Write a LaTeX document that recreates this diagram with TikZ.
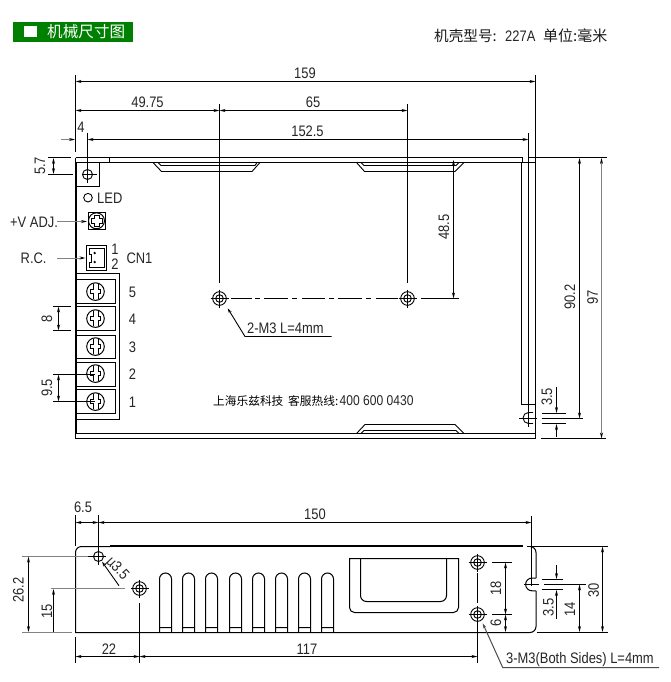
\documentclass[tikz,border=0pt]{standalone}
\usepackage{fontspec}
\setmainfont[FakeStretch=0.85]{Liberation Sans}
\newfontfamily\cjk{Noto Sans CJK SC}
\usetikzlibrary{arrows.meta}
\definecolor{hdrgreen}{RGB}{0,128,0}
\definecolor{dimgray}{RGB}{130,130,130}
\tikzset{
  outline/.style={line width=1pt,black},
  thin line/.style={line width=0.9pt,black},
  heavy/.style={line width=2pt,black},
  ext/.style={line width=1pt,black},
  extg/.style={line width=1pt,dimgray},
  dimline/.style={line width=1pt,black,{Stealth[length=6pt,width=3pt]}-{Stealth[length=6pt,width=3pt]}},
  dimone/.style={line width=1pt,black,-{Stealth[length=6pt,width=3pt]}},
  dimgrayline/.style={line width=1pt,dimgray,-{Stealth[length=6pt,width=3pt,black]}},
  lab/.style={font=\fontsize{15.2}{15.2}\selectfont,inner sep=0pt,text=black!85},
  vlab/.style={lab,rotate=90},
  cjktext/.style={inner sep=0pt,anchor=west},
}
\newcommand{\bighole}[2]{%
  \draw[thin line] (#1,#2) circle[radius=6.8] (#1,#2) circle[radius=3.8];
  \draw[thin line] (#1-9,#2) -- (#1+9,#2) (#1,#2-9) -- (#1,#2+9);}
\newcommand{\termscrew}[1]{%
  \draw[outline] (95.5,#1) circle[radius=8.8];
  \draw[thin line] (93,#1-7.5) -- (93,#1-2) -- (90.5,#1-2) -- (90.5,#1+1.5) -- (93,#1+1.5) -- (93,#1+7.5)
    (98,#1-7.5) -- (98,#1-2) -- (100.5,#1-2) -- (100.5,#1+1.5) -- (98,#1+1.5) -- (98,#1+7.5);}
\newcommand{\finshape}[1]{%
  \draw[outline] (#1,632.5) -- (#1,579) arc[start angle=180,end angle=360,radius=6] -- (#1+12,632.5)
    (#1,627.5) -- (#1+12,627.5);}
\begin{document}
\begin{tikzpicture}[x=1pt,y=-1pt]
\useasboundingbox (0,0) rectangle (671,682);
\fill[white] (0,0) rectangle (671,682);
% header
\fill[hdrgreen] (13,22) rectangle (133,42);
\fill[white] (24,26) rectangle (37,37.5);
\node[cjktext,text=white,font=\cjk\fontsize{15.6}{16}\selectfont] (title) at (47,32) {机械尺寸图};
\node[cjktext,text=black!90,font=\cjk\fontsize{14.6}{15}\selectfont] (shell) at (434,36) {机壳型号:};
\node[lab,anchor=west] (model) at (505,36.5) {227A};
\node[cjktext,text=black!90,font=\cjk\fontsize{15}{15}\selectfont] (unit) at (543,36) {单位:毫米};

% ===== top view body
\draw[outline] (75.5,162.5) -- (535.5,162.5);
\draw[outline] (75.5,157.5) -- (522.5,157.5) -- (522.5,162.5);
\draw[outline] (528.5,157.5) -- (607,157.5);
\draw[outline] (75.5,157.5) -- (75.5,162.5);
\draw[heavy] (76,162) -- (76,433.5);
\draw[outline] (75.5,433.5) -- (535.5,433.5);
\draw[outline] (75.5,433) -- (75.5,438.5) -- (535.5,438.5);
\draw[outline] (109.5,157.5) -- (109.5,162.5);
\draw[outline] (521.5,162.5) -- (521.5,404.5) -- (535.5,404.5);
\draw[outline] (528.5,133) -- (528.5,427);
\draw[outline] (535.5,75) -- (535.5,438.5);
% grooves
\draw[thin line] (153,162.5) -- (161.5,171.5) -- (252,171.5) -- (260,162.5)
  (158,162.5) -- (161,165.5) -- (255,165.5) -- (257,162.5);
\draw[thin line] (356.5,162.5) -- (364.5,171.5) -- (455,171.5) -- (464,162.5)
  (361,162.5) -- (364,165.5) -- (456,165.5) -- (459,162.5);
\draw[thin line] (356.5,433.5) -- (365,424.5) -- (455,424.5) -- (464,433.5)
  (361,433.5) -- (364,430.5) -- (456,430.5) -- (459,433.5);
% corner mount
\draw[outline] (75.5,186.5) -- (99.5,186.5) -- (99.5,162.5);
\draw[thin line] (87.5,174.5) circle[radius=5];
\draw[thin line] (82,174.5) -- (97,174.5);
\draw[ext] (87.5,132.7) -- (87.5,182.7);
% LED
\draw[thin line] (88,197.7) circle[radius=4.3];
\node[lab,anchor=west] (led) at (97,198) {LED};
% +V ADJ
\node[lab,anchor=west] (vadj) at (10,222.5) {+V ADJ.};
\draw[outline] (88.5,212.5) rectangle (105.5,229.5);
\draw[outline] (96.5,220.8) circle[radius=8];
\draw[thin line] (94,215.5) -- (99,215.5) -- (99,218.5) -- (102,218.5) -- (102,223) -- (99,223) -- (99,226) -- (94,226) -- (94,223) -- (91,223) -- (91,218.5) -- (94,218.5) -- cycle;
\draw[dimgrayline] (57,221.5) -- (87,221.5);
% R.C. and CN1
\node[lab,anchor=west] (rc) at (20.5,258.5) {R.C.};
\draw[dimgrayline] (57,258) -- (85.5,258);
\draw[outline] (86.5,245.5) rectangle (106.5,270.5);
\draw[thin line] (89.5,248.5) -- (104,248.5) -- (104,267.5) -- (89.5,267.5) -- (89.5,262) -- (91.5,262) -- (91.5,254) -- (89.5,254) -- cycle;
\fill (94.7,253) circle[radius=1.3] (94.7,262) circle[radius=1.3];
\node[lab] (n1) at (115,249) {1};
\node[lab] (n2) at (115,264.5) {2};
\node[lab] (cn1) at (139.5,258.5) {CN1};
% terminal block
\draw[outline] (75.5,273.5) rectangle (119.5,419.5);
\draw[outline] (76,279.5) rectangle (115.5,303.5);
\draw[outline] (76,306.5) rectangle (115.5,330.5);
\draw[outline] (76,335.5) rectangle (115.5,358.5);
\draw[outline] (76,362.5) rectangle (115.5,386.5);
\draw[outline] (76,389.5) rectangle (115.5,413.5);
\termscrew{291.6}\termscrew{318.6}\termscrew{346.6}\termscrew{373.6}\termscrew{401.6}
\node[lab] (t5) at (132.5,292) {5};
\node[lab] (t4) at (132.5,319) {4};
\node[lab] (t3) at (132.5,347) {3};
\node[lab] (t2) at (132.5,374.5) {2};
\node[lab] (t1) at (132.5,402) {1};
% holes on top view
\bighole{219.5}{298.5}
\bighole{407.5}{298.5}
\draw[outline] (231,298.5) -- (252,298.5) (255,298.5) -- (260,298.5)
  (264,298.5) -- (288,298.5) (292,298.5) -- (297,298.5)
  (302,298.5) -- (325,298.5) (329,298.5) -- (334,298.5)
  (338,298.5) -- (362,298.5) (366,298.5) -- (371,298.5)
  (376,298.5) -- (398,298.5);
\draw[outline] (421,298.5) -- (459,298.5);
\draw[ext] (219.5,104) -- (219.5,283);
\draw[ext] (407.5,104) -- (407.5,283);
% top dims
\draw[ext] (75.5,75) -- (75.5,152);
\draw[dimline] (75.5,81.5) -- (535.5,81.5);
\node[lab] (d159) at (305,73.5) {159};
\draw[dimline] (75.5,110.5) -- (219.5,110.5);
\node[lab] (d4975) at (147.5,102.5) {49.75};
\draw[dimline] (219.5,110.5) -- (407.5,110.5);
\node[lab] (d65) at (313,102.5) {65};
\draw[dimline] (87.5,139.5) -- (528.5,139.5);
\node[lab] (d1525) at (307.5,131.5) {152.5};
\draw[dimgrayline] (61,139.5) -- (75,139.5);
\node[lab] (d4) at (81,127.5) {4};
% 5.7
\draw[ext] (48,157.5) -- (71,157.5) (48,174.5) -- (73,174.5);
\draw[dimline] (53.5,158) -- (53.5,174);
\node[vlab] (d57) at (40,166) {5.7};
% 8
\draw[ext] (53,306.5) -- (71,306.5) (53,330.5) -- (71,330.5);
\draw[dimline] (58.5,306.5) -- (58.5,330.5);
\node[vlab] (d8) at (47,318.5) {8};
% 9.5
\draw[ext] (53,374.5) -- (95,374.5) (53,401.5) -- (95,401.5);
\draw[dimline] (58.5,374.5) -- (58.5,401.5);
\node[vlab] (d95) at (47,388) {9.5};
% leader 2-M3
\draw[thin line,{Stealth[length=5pt,width=3pt]}-] (227.7,308.3) -- (245,336.5) -- (331.5,336.5);
\node[lab,anchor=west] (m3a) at (247,328.5) {2-M3 L=4mm};
% company
\node[cjktext,text=black,font=\cjk\fontsize{11.7}{12}\selectfont] (co) at (213,401) {上海乐兹科技};
\node[cjktext,text=black,font=\cjk\fontsize{11.7}{12}\selectfont] (hot) at (288,401) {客服热线:};
\node[lab,anchor=west,font=\fontsize{14.2}{14}\selectfont] (tel) at (339.5,401) {400 600 0430};
% right dims top
\draw[dimline] (453.5,160) -- (453.5,298.5);
\node[vlab] (d485) at (444,227) {48.5};
\draw[dimline] (579.5,158) -- (579.5,418.5);
\node[vlab] (d902) at (570,297) {90.2};
\draw[line width=1pt,dimgray,{Stealth[length=6pt,width=3pt,black]}-{Stealth[length=6pt,width=3pt,black]}] (601.5,158) -- (601.5,438.5);
\node[vlab] (d97) at (592.7,297) {97};
% notch top view
\draw[thin line] (533,412.5) -- (528.5,412.5) arc[start angle=270,end angle=90,radius=5.5] -- (533,423.5);
\draw[thin line] (519,418.5) -- (537,418.5);
\draw[ext] (541.5,413.5) -- (566,413.5) (541.5,423.5) -- (566,423.5) (541.5,418.5) -- (582.5,418.5) (541,438.5) -- (606,438.5);
\draw[dimone] (556.5,387) -- (556.5,413);
\draw[dimone] (556.5,436.8) -- (556.5,424);
\node[vlab] (d35a) at (547,397) {3.5};

% ===== bottom view
\draw[outline] (110,546.5) -- (81.5,546.5) arc[start angle=270,end angle=180,radius=6] -- (75.5,632.5) -- (530,632.5) arc[start angle=90,end angle=0,radius=6] -- (536,590.8);
\draw[line width=2pt] (110,546.3) -- (523,546.3);
\draw[outline] (530,546.5) arc[start angle=-90,end angle=0,radius=6] -- (536,578);
\draw[outline] (527,546.5) -- (608,546.5);
\draw[outline] (536,578) -- (532,578) arc[start angle=270,end angle=90,radius=6.4] -- (536,590.8);
\draw[thin line] (524,584.5) -- (539,584.5);
\draw[ext] (541.5,579.5) -- (562.5,579.5) (541.5,589.5) -- (562.5,589.5) (544,584.5) -- (586,584.5);
\foreach \fx in {159.5,182.5,205.5,229.5,252.5,275.5,298.5,321.5} {\finshape{\fx}}
% handle
\draw[outline] (349.5,558.5) -- (458.5,558.5) -- (458.5,607.5) arc[start angle=0,end angle=90,radius=5] -- (354.5,612.5) arc[start angle=90,end angle=180,radius=5] -- cycle;
\draw[outline] (360.5,558.5) -- (360.5,595.5) arc[start angle=180,end angle=90,radius=6] -- (440.5,601.5) arc[start angle=90,end angle=0,radius=6] -- (446.5,558.5);
% holes
\draw[thin line] (98.5,556.5) circle[radius=5];
\draw[thin line] (88,556.5) -- (106,556.5);
\draw[ext] (98.5,515) -- (98.5,565);
\bighole{139.5}{588.5}
\bighole{477.5}{562.5}
\bighole{477.5}{614.5}
\draw[thin line] (477.5,573) -- (477.5,603) (477.5,622) -- (477.5,662.7);
\draw[ext] (139.5,603) -- (139.5,662.7);
% bottom dims
\draw[ext] (75.5,515) -- (75.5,546);
\draw[dimline] (75.5,522.5) -- (98.5,522.5);
\node[lab] (d65b) at (83,507) {6.5};
\draw[dimline] (98.5,522.5) -- (531.5,522.5);
\node[lab] (d150) at (315,514) {150};
\draw[ext] (531.5,516) -- (531.5,586);
\draw[extg] (22,556.5) -- (88,556.5) (22,632.5) -- (72,632.5) (51,588.5) -- (125,588.5);
\draw[dimline] (28.5,556.6) -- (28.5,632);
\node[vlab] (d262) at (18.5,590) {26.2};
\draw[dimone] (53.5,632) -- (53.5,589);
\node[vlab] (d15) at (47,611.7) {15};
\draw[ext] (75.5,637) -- (75.5,662.7);
\draw[dimline] (75.5,656.5) -- (139.5,656.5);
\node[lab] (d22) at (109,649.5) {22};
\draw[dimline] (139.5,656.5) -- (477.5,656.5);
\node[lab] (d117) at (307,649.5) {117};
% diameter leader
\draw[thin line,{Stealth[length=5pt,width=3pt]}-] (102,561.7) -- (119,585.7);
\node[lab,rotate=-47] (dia) at (117,569) {µ3.5};
% right dims bottom
\draw[ext] (491.5,562.5) -- (511.5,562.5) (491.5,614.5) -- (511.5,614.5);
\draw[dimline] (505.5,562.5) -- (505.5,614.5);
\draw[dimline] (505.5,614.5) -- (505.5,632);
\node[vlab] (d18) at (496,588.5) {18};
\node[vlab] (d6) at (496,623) {6};
\draw[dimone] (556.5,565) -- (556.5,579);
\draw[dimone] (556.5,618.5) -- (556.5,590);
\node[vlab] (d35b) at (548.3,607.3) {3.5};
\draw[dimline] (579.5,584.5) -- (579.5,632);
\node[vlab] (d14) at (570,609) {14};
\draw[outline] (536.5,632.5) -- (608,632.5);
\draw[dimline] (602.5,546.5) -- (602.5,632);
\node[vlab] (d30) at (593.7,590) {30};
% leader 3-M3
\draw[line width=1pt,black!70,{Stealth[length=5pt,width=3pt]}-] (482.7,623.3) -- (502.7,667.5) -- (659,667.5);
\node[lab,anchor=west] (m3b) at (506,659.5) {3-M3(Both Sides) L=4mm};
\end{tikzpicture}
\end{document}
